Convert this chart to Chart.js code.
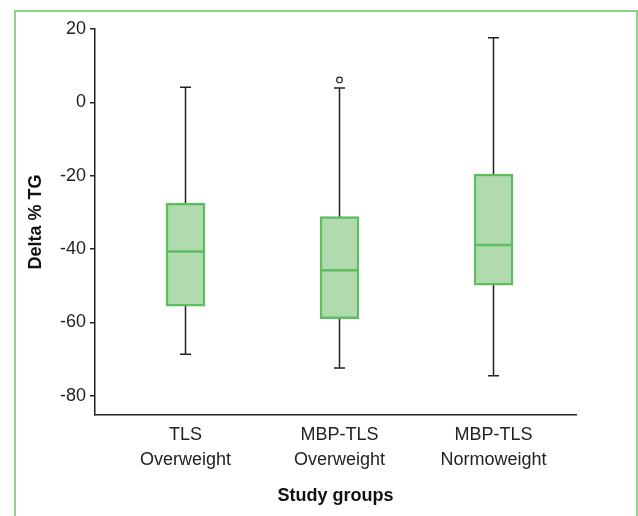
<!DOCTYPE html>
<html lang="en">
<head>
    <meta charset="UTF-8">
    <title>Delta % TG by study group</title>
    <script src="https://cdn.jsdelivr.net/npm/chart.js"></script>
    <style>
        body { margin: 0; background: #fff; }
        #frame {
            position: absolute; left: 14px; top: 10px; width: 620px; height: 540px;
            border: 2px solid #8ed38a; border-bottom: none;
        }
        #wrap { position: absolute; left: 0; top: 0; width: 638px; height: 516px; }
    </style>
</head>
<body>
<div id="frame"></div>
<div id="wrap"><canvas id="boxChart" width="638" height="516"></canvas></div>

<script>
    // values
    var groups = [["TLS", "Overweight"], ["MBP-TLS", "Overweight"], ["MBP-TLS", "Normoweight"]];
    var groupPos = [1, 2, 3];
    var whiskerLow = [-68.7, -72.5, -74.6];
    var q1 = [-55.6, -59.0, -49.9];
    var medians = [-40.7, -45.8, -38.9];
    var q3 = [-27.5, -31.2, -19.6];
    var whiskerHigh = [4.1, 3.9, 17.6];
    var outlierGroup = [2];
    var outlierValue = [6.1];
    var yTicks = [-80, -60, -40, -20, 0, 20];

    var boxBorder = "#5dbd5f";
    var boxFill = "#b1dbae";
    var fontFam = "'Liberation Sans', Arial, sans-serif";

    // whiskers behind the boxes, medians on top
    var whiskerPlugin = {
        id: "whiskers",
        beforeDatasetsDraw: function(chart) {
            var ctx = chart.ctx, xs = chart.scales.x, ys = chart.scales.y;
            ctx.save();
            ctx.strokeStyle = "#222";
            ctx.lineWidth = 1.5;
            for (var i = 0; i < groupPos.length; i++) {
                var x = xs.getPixelForValue(groupPos[i]);
                var yLo = ys.getPixelForValue(whiskerLow[i]);
                var yHi = ys.getPixelForValue(whiskerHigh[i]);
                ctx.beginPath();
                ctx.moveTo(x, yHi); ctx.lineTo(x, yLo);
                ctx.moveTo(x - 5.5, yHi); ctx.lineTo(x + 5.5, yHi);
                ctx.moveTo(x - 5.5, yLo); ctx.lineTo(x + 5.5, yLo);
                ctx.stroke();
            }
            ctx.restore();
        },
        afterDatasetsDraw: function(chart) {
            var ctx = chart.ctx, xs = chart.scales.x, ys = chart.scales.y;
            ctx.save();
            ctx.strokeStyle = boxBorder;
            ctx.lineWidth = 2.5;
            for (var i = 0; i < groupPos.length; i++) {
                var x = xs.getPixelForValue(groupPos[i]);
                var y = ys.getPixelForValue(medians[i]);
                ctx.beginPath();
                ctx.moveTo(x - 19.5, y); ctx.lineTo(x + 19.5, y);
                ctx.stroke();
            }
            ctx.restore();
        }
    };

    var boxData = groupPos.map(function(p, i) { return { x: p, y: [q1[i], q3[i]] }; });
    var outlierData = outlierGroup.map(function(p, i) { return { x: p, y: outlierValue[i] }; });

    new Chart(document.getElementById("boxChart"), {
        type: "bar",
        data: {
            datasets: [
                {
                    type: "scatter",
                    data: outlierData,
                    pointStyle: "circle",
                    pointRadius: 2.8,
                    pointBackgroundColor: "#fff",
                    pointBorderColor: "#222",
                    pointBorderWidth: 1.2,
                },
                {
                    data: boxData,
                    backgroundColor: boxFill,
                    borderColor: boxBorder,
                    borderWidth: 2.5,
                    borderSkipped: false,
                    barThickness: 39,
                },
            ],
        },
        options: {
            responsive: false,
            animation: false,
            events: [],
            layout: { padding: { left: 0, right: 62, top: 29, bottom: 0 } },
            plugins: { legend: { display: false }, tooltip: { enabled: false } },
            scales: {
                x: {
                    type: "linear",
                    offset: false,
                    min: 0.4123,
                    max: 3.5357,
                    afterBuildTicks: function(scale) {
                        scale.ticks = groupPos.map(function(v) { return { value: v }; });
                    },
                    afterFit: function(scale) { scale.height = 101; },
                    grid: { display: false, drawTicks: false },
                    border: { display: true, color: "#222", width: 1.5 },
                    ticks: {
                        padding: 8,
                        color: "#222",
                        font: { family: fontFam, size: 18, lineHeight: 1.39 },
                        maxRotation: 0,
                        autoSkip: false,
                        callback: function(v) { return groups[groupPos.indexOf(v)]; },
                    },
                    title: {
                        display: true,
                        text: "Study groups",
                        color: "#111",
                        font: { family: fontFam, size: 18, weight: "bold" },
                        padding: { top: 0, bottom: 9 },
                    },
                },
                y: {
                    min: -85.3,
                    max: 20,
                    afterBuildTicks: function(scale) {
                        scale.ticks = yTicks.map(function(v) { return { value: v }; });
                    },
                    afterFit: function(scale) { scale.width = 95; },
                    grid: { drawOnChartArea: false, drawTicks: true, tickLength: 5, color: "#222", lineWidth: 1.5 },
                    border: { display: true, color: "#222", width: 1.5 },
                    ticks: {
                        padding: 4,
                        color: "#222",
                        font: { family: fontFam, size: 18 },
                    },
                    title: {
                        display: true,
                        text: "Delta % TG",
                        color: "#111",
                        font: { family: fontFam, size: 18, weight: "bold" },
                        padding: { top: 25, bottom: 0 },
                    },
                },
            },
        },
        plugins: [whiskerPlugin],
    });
</script>
</body>
</html>
